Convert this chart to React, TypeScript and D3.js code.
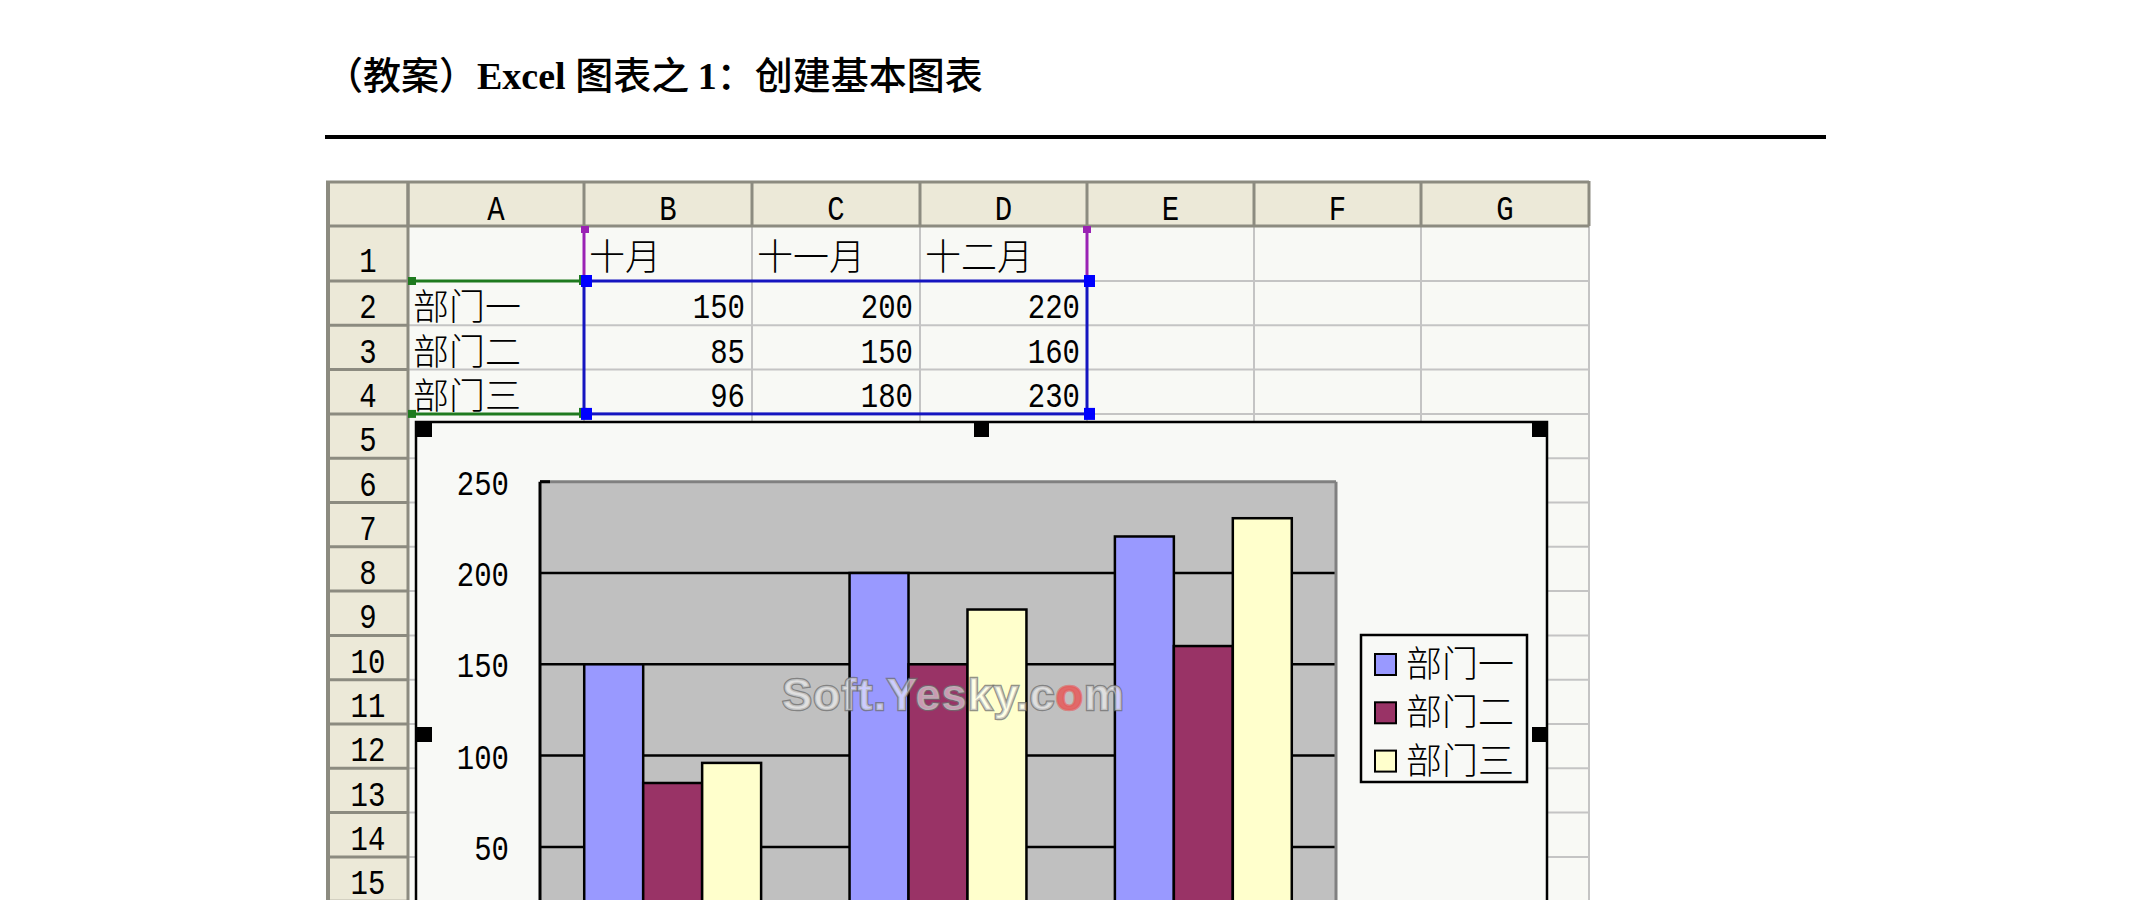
import React from "react";
import * as d3 from "d3";

// ---------- data ----------
const months = ["十月", "十一月", "十二月"];
const depts = ["部门一", "部门二", "部门三"];
const dept1 = [150, 200, 220];
const dept2 = [85, 150, 160];
const dept3 = [96, 180, 230];
const deptValues = [dept1, dept2, dept3];
const yTicks = [50, 100, 150, 200, 250];
const colLetters = ["A", "B", "C", "D", "E", "F", "G"];
const rowNumbers = d3.range(1, 17);
const seriesColors = ["#9999FF", "#993366", "#FFFFCC"];
const titleParts = [
  { t: "（教案）", latin: false },
  { t: "Excel ", latin: true },
  { t: "图表之 ", latin: false },
  { t: "1", latin: true },
  { t: "：创建基本图表", latin: false },
];
const watermark = ["Soft.Yesky.c", "o", "m"];

// ---------- layout ----------
const W = 2149;
const H = 900;
const CJK = "'Noto Sans CJK SC', sans-serif";
const MONO = "'Liberation Mono', 'DejaVu Sans Mono', monospace";
const colEdges = [326, 408, 584, 752, 920, 1087, 1254, 1421, 1589];
const headerTop = 181;
const headerBottom = 226;
const row1Bottom = 281;
const rowH = 44.3;
const rowBottom = (r: number) => (r === 1 ? row1Bottom : row1Bottom + (r - 1) * rowH);

const HEAD_BG = "#ECE9D8";
const HEAD_LINE = "#8C8B80";
const GRID = "#C4C4C4";
const CELL_BG = "#F8F9F5";

const plot = { left: 540, right: 1336, top: 481.7 };
const y = d3.scaleLinear().domain([0, 250]).range([938.2, plot.top]);
const x0 = d3
  .scaleBand<string>()
  .domain(months)
  .range([plot.left, plot.right])
  .paddingInner(1 / 3)
  .paddingOuter(1 / 6);
const x1 = d3.scaleBand<string>().domain(depts).range([0, x0.bandwidth()]).padding(0);

function Digits({ x, y: yy, anchor = "start", children, size = 29 }: any) {
  return (
    <text
      transform={`translate(${x},${yy}) scale(1,1.22)`}
      textAnchor={anchor}
      fontFamily={MONO}
      fontSize={size}
      fill="#000"
    >
      {children}
    </text>
  );
}

export default function App() {
  const lastRowBottom = rowBottom(16);
  const chart = { x: 416, y: 422, w: 1131, h: 625 };
  const hs = 15;
  return (
    <svg
      width={W}
      height={H}
      style={{ position: "absolute", left: 0, top: 0, display: "block", background: "#fff" }}
    >
      <rect x={0} y={0} width={W} height={H} fill="#fff" />

      {/* title */}
      <text x={325} y={89} fontSize={38} fill="#000">
        {titleParts.map((p, i) =>
          p.latin ? (
            <tspan key={i} fontFamily="'Liberation Serif', serif" fontWeight="bold">
              {p.t}
            </tspan>
          ) : (
            <tspan key={i} fontFamily={CJK} fontWeight={500}>
              {p.t}
            </tspan>
          )
        )}
      </text>
      <rect x={325} y={135} width={1501} height={4} fill="#000" />

      {/* sheet backgrounds */}
      <rect x={colEdges[1]} y={headerBottom} width={colEdges[8] - colEdges[1]} height={lastRowBottom - headerBottom} fill={CELL_BG} />
      <rect x={colEdges[0]} y={headerTop} width={colEdges[8] - colEdges[0]} height={headerBottom - headerTop} fill={HEAD_BG} />
      <rect x={colEdges[0]} y={headerTop} width={colEdges[1] - colEdges[0]} height={lastRowBottom - headerTop} fill={HEAD_BG} />

      {/* light gridlines */}
      {rowNumbers.map((r) => (
        <line key={"hg" + r} x1={colEdges[1]} x2={colEdges[8]} y1={rowBottom(r)} y2={rowBottom(r)} stroke={GRID} strokeWidth={2} />
      ))}
      {colEdges.slice(2).map((cx, i) => (
        <line key={"vg" + i} x1={cx} x2={cx} y1={headerBottom} y2={lastRowBottom} stroke={GRID} strokeWidth={2} />
      ))}

      {/* header borders */}
      <line x1={colEdges[0]} x2={colEdges[8]} y1={headerTop + 1} y2={headerTop + 1} stroke={HEAD_LINE} strokeWidth={3} />
      <line x1={colEdges[0]} x2={colEdges[8]} y1={headerBottom} y2={headerBottom} stroke={HEAD_LINE} strokeWidth={3} />
      {colEdges.slice(1).map((cx, i) => (
        <line key={"hv" + i} x1={cx} x2={cx} y1={headerTop} y2={headerBottom} stroke={HEAD_LINE} strokeWidth={3} />
      ))}
      <line x1={colEdges[0] + 2} x2={colEdges[0] + 2} y1={headerTop} y2={lastRowBottom} stroke={HEAD_LINE} strokeWidth={4} />
      <line x1={colEdges[1]} x2={colEdges[1]} y1={headerTop} y2={lastRowBottom} stroke={HEAD_LINE} strokeWidth={3} />
      {rowNumbers.map((r) => (
        <line key={"rh" + r} x1={colEdges[0]} x2={colEdges[1]} y1={rowBottom(r)} y2={rowBottom(r)} stroke={HEAD_LINE} strokeWidth={3} />
      ))}

      {/* header labels */}
      {colLetters.map((c, i) => (
        <Digits key={c} x={(colEdges[i + 1] + colEdges[i + 2]) / 2} y={220} anchor="middle">
          {c}
        </Digits>
      ))}
      {rowNumbers
        .filter((r) => rowBottom(r) <= H + 5)
        .map((r) => (
          <Digits key={"rn" + r} x={368} y={r === 1 ? 272 : rowBottom(r) - 7} anchor="middle">
            {r}
          </Digits>
        ))}

      {/* cell contents */}
      {months.map((m, i) => (
        <text key={m} x={colEdges[i + 2] + 5} y={270} fontFamily={CJK} fontWeight={300} fontSize={36} fill="#000">
          {m}
        </text>
      ))}
      {depts.map((d, j) => (
        <g key={d}>
          <text x={colEdges[1] + 5} y={rowBottom(j + 2) - 5} fontFamily={CJK} fontWeight={300} fontSize={36} fill="#000">
            {d}
          </text>
          {deptValues[j].map((v, i) => (
            <Digits key={i} x={colEdges[i + 3] - 7} y={rowBottom(j + 2) - 7} anchor="end">
              {v}
            </Digits>
          ))}
        </g>
      ))}

      {/* selection ranges */}
      <g>
        <line x1={colEdges[2]} x2={colEdges[2]} y1={headerBottom} y2={row1Bottom} stroke="#9A22B4" strokeWidth={3} />
        <line x1={colEdges[5]} x2={colEdges[5]} y1={headerBottom} y2={row1Bottom} stroke="#9A22B4" strokeWidth={3} />
        <rect x={colEdges[2] - 3} y={headerBottom} width={8} height={7} fill="#9A22B4" />
        <rect x={colEdges[5] - 4} y={headerBottom} width={8} height={7} fill="#9A22B4" />
        <line x1={colEdges[1]} x2={colEdges[2]} y1={row1Bottom} y2={row1Bottom} stroke="#1E7A1E" strokeWidth={3} />
        <line x1={colEdges[1]} x2={colEdges[2]} y1={rowBottom(4)} y2={rowBottom(4)} stroke="#1E7A1E" strokeWidth={3} />
        <rect x={colEdges[1]} y={row1Bottom - 4} width={8} height={8} fill="#1E7A1E" />
        <rect x={colEdges[1]} y={rowBottom(4) - 4} width={8} height={8} fill="#1E7A1E" />
        <rect x={colEdges[2] - 5} y={row1Bottom - 6} width={8} height={10} fill="#1E7A1E" />
        <rect x={colEdges[2] - 5} y={rowBottom(4) - 6} width={8} height={10} fill="#1E7A1E" />
        <rect
          x={colEdges[2]}
          y={row1Bottom}
          width={colEdges[5] - colEdges[2]}
          height={rowBottom(4) - row1Bottom}
          fill="none"
          stroke="#1515C0"
          strokeWidth={3}
        />
        {[colEdges[2], colEdges[5]].map((cx) =>
          [row1Bottom, rowBottom(4)].map((cy) => (
            <rect key={cx + "-" + cy} x={cx - 3} y={cy - 6} width={11} height={12} fill="#0000FF" />
          ))
        )}
      </g>

      {/* chart object */}
      <rect x={chart.x} y={chart.y} width={chart.w} height={chart.h} fill="#F8F9F6" stroke="#000" strokeWidth={2.5} />

      {/* plot area */}
      <rect x={plot.left} y={plot.top} width={plot.right - plot.left} height={y(0) - plot.top} fill="#C0C0C0" />
      {yTicks.filter((t) => t < 250).map((t) => (
        <line key={"gl" + t} x1={plot.left} x2={plot.right} y1={y(t)} y2={y(t)} stroke="#000" strokeWidth={2.5} />
      ))}
      <line x1={plot.left} x2={plot.right} y1={plot.top} y2={plot.top} stroke="#808080" strokeWidth={3} />
      <line x1={plot.right} x2={plot.right} y1={plot.top} y2={H} stroke="#808080" strokeWidth={3} />
      <line x1={plot.left} x2={plot.left + 10} y1={plot.top} y2={plot.top} stroke="#000" strokeWidth={3} />

      {/* bars */}
      {months.map((m, i) => (
        <g key={m} transform={`translate(${x0(m)},0)`}>
          {depts.map((d, j) => (
            <rect
              key={d}
              x={x1(d)}
              y={y(deptValues[j][i])}
              width={x1.bandwidth()}
              height={y(0) - y(deptValues[j][i])}
              fill={seriesColors[j]}
              stroke="#000"
              strokeWidth={2.5}
            />
          ))}
        </g>
      ))}

      {/* y axis */}
      <line x1={plot.left} x2={plot.left} y1={plot.top} y2={H} stroke="#000" strokeWidth={3} />
      {yTicks.map((t) => (
        <Digits key={"yt" + t} x={509} y={y(t) + 13} anchor="end">
          {t}
        </Digits>
      ))}

      {/* watermark */}
      <text
        x={782}
        y={710}
        fontFamily="'Liberation Sans', Arial, sans-serif"
        fontWeight="bold"
        fontSize={45}
        textLength={342}
        fill="rgba(255,255,255,0.5)"
        stroke="rgba(110,110,110,0.75)"
        strokeWidth={2.5}
        paintOrder="stroke"
      >
        {watermark[0]}
        <tspan fill="rgba(230,90,90,0.85)" stroke="rgba(230,90,90,0.6)">
          {watermark[1]}
        </tspan>
        {watermark[2]}
      </text>

      {/* legend */}
      <rect x={1361} y={635} width={166} height={147} fill="#F8F9F6" stroke="#000" strokeWidth={2.5} />
      {depts.map((d, j) => (
        <g key={"lg" + d} transform={`translate(0,${j * 48.3})`}>
          <rect x={1375} y={654} width={21} height={21} fill={seriesColors[j]} stroke="#000" strokeWidth={2} />
          <text x={1406} y={677} fontFamily={CJK} fontWeight={300} fontSize={36} fill="#000">
            {d}
          </text>
        </g>
      ))}

      {/* selection handles */}
      {[
        [chart.x + 1, chart.y],
        [chart.x + chart.w / 2 - hs / 2, chart.y],
        [chart.x + chart.w - hs, chart.y],
        [chart.x + 1, chart.y + chart.h / 2 - hs / 2],
        [chart.x + chart.w - hs, chart.y + chart.h / 2 - hs / 2],
      ].map(([hx, hy], i) => (
        <rect key={"h" + i} x={hx} y={hy} width={hs} height={hs} fill="#000" />
      ))}
    </svg>
  );
}
